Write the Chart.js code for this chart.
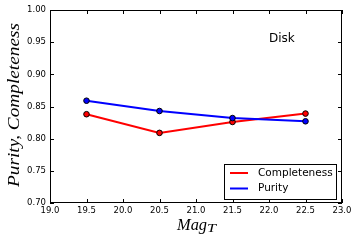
<!DOCTYPE html>
<html>
<head>
<meta charset="utf-8">
<script src="https://cdn.jsdelivr.net/npm/chart.js@4.4.1/dist/chart.umd.min.js"></script>
<style>
  html, body { margin: 0; padding: 0; background: #fff; }
  #wrap { width: 357px; height: 243px; }
</style>
</head>
<body>
<div id="wrap"><canvas id="chart" width="357" height="243"></canvas></div>
<script>
// data
const magBins = [19.5, 20.5, 21.5, 22.5];
const completeness = [0.838, 0.809, 0.826, 0.839];
const purity = [0.859, 0.843, 0.832, 0.827];
const seriesLabels = ["Completeness", "Purity"];
const seriesColors = ["#ff0000", "#0000ff"];
const xTicks = [19.0, 19.5, 20.0, 20.5, 21.0, 21.5, 22.0, 22.5, 23.0];
const yTicks = [0.70, 0.75, 0.80, 0.85, 0.90, 0.95, 1.00];
const panelLabel = "Disk";

const tickFont = { family: "DejaVu Sans", size: 8.5 };
const mathFont = "'Liberation Serif'";

// draw text squeezed/stretched to a given width (stands in for the mathtext font)
function fitText(ctx, txt, x, y, width) {
  const w = ctx.measureText(txt).width;
  ctx.save();
  ctx.translate(x, y);
  ctx.scale(width / w, 1);
  ctx.fillText(txt, 0, 0);
  ctx.restore();
}

// box, inward ticks on all four sides, axis titles, text label, legend
const framePlugin = {
  id: "frame",
  afterDraw(chart) {
    const ctx = chart.ctx;
    const a = chart.chartArea;
    const xs = chart.scales.x, ys = chart.scales.y;
    ctx.save();
    ctx.strokeStyle = "#000";
    ctx.lineWidth = 1;
    ctx.strokeRect(a.left + 0.5, a.top + 0.5, a.right - a.left - 1, a.bottom - a.top - 1);

    const tl = 4;
    ctx.beginPath();
    xTicks.forEach(v => {
      const px = Math.round(xs.getPixelForValue(v)) + 0.5;
      ctx.moveTo(px, a.bottom); ctx.lineTo(px, a.bottom - tl);
      ctx.moveTo(px, a.top); ctx.lineTo(px, a.top + tl);
    });
    yTicks.forEach(v => {
      const py = Math.round(ys.getPixelForValue(v)) + 0.5;
      ctx.moveTo(a.left, py); ctx.lineTo(a.left + tl, py);
      ctx.moveTo(a.right, py); ctx.lineTo(a.right - tl, py);
    });
    ctx.stroke();

    // axis titles
    ctx.fillStyle = "#000";
    ctx.textAlign = "left";
    ctx.textBaseline = "alphabetic";
    ctx.font = "italic 17px " + mathFont;
    ctx.save();
    ctx.translate(19, 187);
    ctx.rotate(-Math.PI / 2);
    fitText(ctx, "Purity, Completeness", 0, 0, 164);
    ctx.restore();

    ctx.font = "italic 17px " + mathFont;
    fitText(ctx, "Mag", 177, 230, 30);
    ctx.font = "italic 11.5px " + mathFont;
    fitText(ctx, "T", 207, 232, 9);

    // panel label
    ctx.font = "12px 'DejaVu Sans'";
    ctx.fillText(panelLabel, xs.getPixelForValue(22.0), ys.getPixelForValue(0.951));

    // legend
    const lx = 224, ly = 164, lw = 112, lh = 35;
    ctx.fillStyle = "#fff";
    ctx.fillRect(lx, ly, lw, lh);
    ctx.strokeStyle = "#000";
    ctx.strokeRect(lx + 0.5, ly + 0.5, lw, lh);
    ctx.font = "10.5px 'DejaVu Sans'";
    ctx.textBaseline = "middle";
    seriesLabels.forEach((lab, i) => {
      const ry = ly + 9 + i * 15.5;
      ctx.strokeStyle = seriesColors[i];
      ctx.lineWidth = 2;
      ctx.beginPath();
      ctx.moveTo(230, ry); ctx.lineTo(248, ry);
      ctx.stroke();
      ctx.fillStyle = "#000";
      ctx.fillText(lab, 258, ry);
    });
    ctx.restore();
  }
};

new Chart(document.getElementById("chart"), {
  type: "line",
  data: {
    datasets: [
      {
        label: seriesLabels[0],
        data: magBins.map((m, i) => ({ x: m, y: completeness[i] })),
        borderColor: seriesColors[0],
        backgroundColor: seriesColors[0],
        pointBorderColor: "#000",
        pointBorderWidth: 1,
        pointRadius: 2.8,
        borderWidth: 2,
        order: 2
      },
      {
        label: seriesLabels[1],
        data: magBins.map((m, i) => ({ x: m, y: purity[i] })),
        borderColor: seriesColors[1],
        backgroundColor: seriesColors[1],
        pointBorderColor: "#000",
        pointBorderWidth: 1,
        pointRadius: 2.8,
        borderWidth: 2,
        order: 1
      }
    ]
  },
  options: {
    responsive: false,
    animation: false,
    layout: { padding: { left: 0, top: 10, right: 15, bottom: 0 } },
    plugins: { legend: { display: false }, tooltip: { enabled: false } },
    scales: {
      x: {
        type: "linear",
        min: 19, max: 23,
        afterBuildTicks: s => { s.ticks = xTicks.map(v => ({ value: v })); },
        afterFit: s => { s.height = 40; },
        grid: { display: false, drawTicks: false },
        border: { display: false },
        ticks: { color: "#000", font: tickFont, padding: 3, maxRotation: 0, autoSkip: false,
                 callback: v => v.toFixed(1) }
      },
      y: {
        min: 0.7, max: 1.0,
        afterBuildTicks: s => { s.ticks = yTicks.map(v => ({ value: v })); },
        afterFit: s => { s.width = 50; },
        grid: { display: false, drawTicks: false },
        border: { display: false },
        ticks: { color: "#000", font: tickFont, padding: 4, autoSkip: false,
                 callback: v => v.toFixed(2) }
      }
    }
  },
  plugins: [framePlugin]
});
</script>
</body>
</html>
